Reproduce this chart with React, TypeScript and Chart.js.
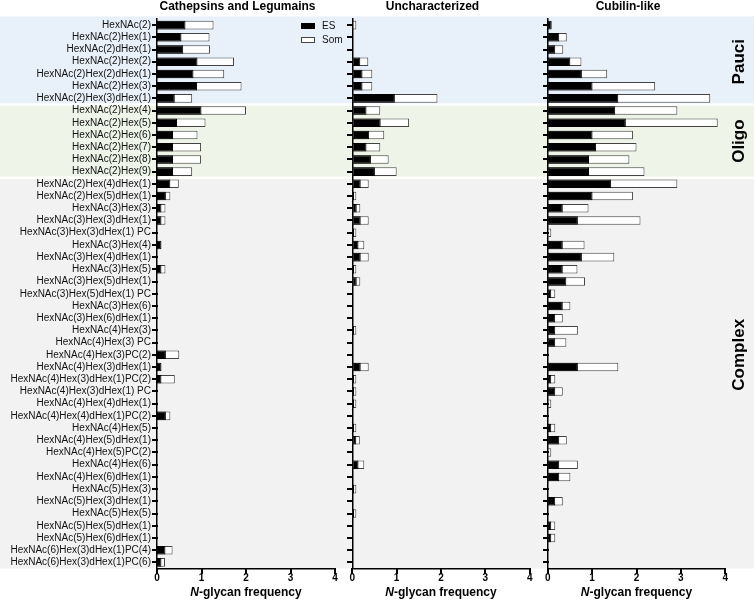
import React, { useEffect, useRef } from 'react';
import { Chart, registerables } from 'chart.js';

Chart.register(...registerables);

const categories = [
  'HexNAc(2)',
  'HexNAc(2)Hex(1)',
  'HexNAc(2)dHex(1)',
  'HexNAc(2)Hex(2)',
  'HexNAc(2)Hex(2)dHex(1)',
  'HexNAc(2)Hex(3)',
  'HexNAc(2)Hex(3)dHex(1)',
  'HexNAc(2)Hex(4)',
  'HexNAc(2)Hex(5)',
  'HexNAc(2)Hex(6)',
  'HexNAc(2)Hex(7)',
  'HexNAc(2)Hex(8)',
  'HexNAc(2)Hex(9)',
  'HexNAc(2)Hex(4)dHex(1)',
  'HexNAc(2)Hex(5)dHex(1)',
  'HexNAc(3)Hex(3)',
  'HexNAc(3)Hex(3)dHex(1)',
  'HexNAc(3)Hex(3)dHex(1) PC',
  'HexNAc(3)Hex(4)',
  'HexNAc(3)Hex(4)dHex(1)',
  'HexNAc(3)Hex(5)',
  'HexNAc(3)Hex(5)dHex(1)',
  'HexNAc(3)Hex(5)dHex(1) PC',
  'HexNAc(3)Hex(6)',
  'HexNAc(3)Hex(6)dHex(1)',
  'HexNAc(4)Hex(3)',
  'HexNAc(4)Hex(3) PC',
  'HexNAc(4)Hex(3)PC(2)',
  'HexNAc(4)Hex(3)dHex(1)',
  'HexNAc(4)Hex(3)dHex(1)PC(2)',
  'HexNAc(4)Hex(3)dHex(1) PC',
  'HexNAc(4)Hex(4)dHex(1)',
  'HexNAc(4)Hex(4)dHex(1)PC(2)',
  'HexNAc(4)Hex(5)',
  'HexNAc(4)Hex(5)dHex(1)',
  'HexNAc(4)Hex(5)PC(2)',
  'HexNAc(4)Hex(6)',
  'HexNAc(4)Hex(6)dHex(1)',
  'HexNAc(5)Hex(3)',
  'HexNAc(5)Hex(3)dHex(1)',
  'HexNAc(5)Hex(5)',
  'HexNAc(5)Hex(5)dHex(1)',
  'HexNAc(5)Hex(6)dHex(1)',
  'HexNAc(6)Hex(3)dHex(1)PC(4)',
  'HexNAc(6)Hex(3)dHex(1)PC(6)',
];

// Cathepsins and Legumains
const cathepsinES = [
  0.64, 0.55, 0.59, 0.91, 0.82, 0.90, 0.40,
  1.00, 0.45, 0.36, 0.36, 0.36, 0.36,
  0.30, 0.20, 0.10, 0.10, 0, 0.10, 0, 0.10, 0, 0, 0, 0, 0, 0, 0.20, 0.10, 0.10,
  0, 0, 0.20, 0, 0, 0, 0, 0, 0, 0, 0, 0, 0, 0.19, 0.10,
];
const cathepsinSom = [
  1.27, 1.18, 1.19, 1.73, 1.51, 1.90, 0.79,
  2.00, 1.09, 0.91, 0.99, 0.99, 0.79,
  0.49, 0.30, 0.19, 0.19, 0, 0, 0, 0.19, 0, 0, 0, 0, 0, 0, 0.50, 0, 0.40,
  0, 0, 0.30, 0, 0, 0, 0, 0, 0, 0, 0, 0, 0, 0.35, 0.18,
];

// Uncharacterized
const uncharES = [
  0.03, 0, 0, 0.18, 0.23, 0.23, 0.96,
  0.32, 0.64, 0.38, 0.32, 0.42, 0.51,
  0.19, 0.04, 0.10, 0.19, 0.04, 0.14, 0.19, 0.04, 0.10, 0, 0, 0, 0.04, 0, 0, 0.19, 0.04,
  0.04, 0.04, 0, 0.04, 0.09, 0, 0.14, 0, 0.04, 0, 0.04, 0, 0, 0, 0,
];
const uncharSom = [
  0.09, 0, 0, 0.36, 0.45, 0.45, 1.92,
  0.63, 1.28, 0.72, 0.63, 0.82, 1.00,
  0.37, 0.09, 0.18, 0.37, 0.09, 0.27, 0.37, 0.09, 0.18, 0, 0, 0, 0.09, 0, 0, 0.37, 0.09,
  0.09, 0.09, 0, 0.09, 0.17, 0, 0.27, 0, 0.09, 0, 0.09, 0, 0, 0, 0,
];

// Cubilin-like
const cubilinES = [
  0.09, 0.26, 0.17, 0.51, 0.77, 1.01, 1.59,
  1.52, 1.76, 1.01, 1.09, 0.93, 0.93,
  1.43, 1.01, 0.34, 0.68, 0, 0.34, 0.77, 0.34, 0.42, 0.08, 0.34, 0.17, 0.17, 0.17, 0, 0.68, 0.08,
  0.17, 0, 0, 0.08, 0.26, 0, 0.26, 0.26, 0, 0.17, 0, 0.08, 0.08, 0, 0,
];
const cubilinSom = [
  0, 0.43, 0.35, 0.76, 1.34, 2.42, 3.66,
  2.92, 3.83, 1.92, 2.00, 1.84, 2.18,
  2.92, 1.92, 0.92, 2.09, 0.08, 0.83, 1.50, 0.67, 0.84, 0.17, 0.51, 0.34, 0.68, 0.42, 0, 1.59, 0.17,
  0.34, 0.08, 0, 0.17, 0.43, 0.08, 0.68, 0.51, 0, 0.34, 0, 0.17, 0.17, 0, 0,
];

const xTickValues = [0, 1, 2, 3, 4];
const panelTitles = ['Cathepsins and Legumains', 'Uncharacterized', 'Cubilin-like'];
const seriesNames = ['ES', 'Som'];
const xTitleItalic = 'N';
const xTitleRest = '-glycan frequency';
const groupNames = ['Pauci', 'Oligo', 'Complex'];
const groupFirstRow = [0, 7, 13];
const groupLastRow = [6, 12, 44];
const groupLabelRow = [3, 9.5, 27];
const groupColors = ['#e8f0fa', '#eef5e8', '#f2f2f2'];

const FONT = '"Liberation Sans", Arial, Helvetica, sans-serif';
const H = 601;
const TICK_LEN = 5;

const panels = [
  { left: 0, width: 345, plotLeft: 157, padRight: 10, bandLeft: 0, bandRight: 345 },
  { left: 345, width: 195, plotLeft: 7.3, padRight: 10.3, bandLeft: 0, bandRight: 195 },
  { left: 540, width: 216, plotLeft: 7.7, padRight: 30.7, bandLeft: 0, bandRight: 214 },
];

const seriesByPanel = [
  [cathepsinES, cathepsinSom],
  [uncharES, uncharSom],
  [cubilinES, cubilinSom],
];

function buildChart(canvas: HTMLCanvasElement, idx: number) {
  const panel = panels[idx];
  const [es, som] = seriesByPanel[idx];
  const toBar = (v: number) => (v > 0 ? v : null);

  const bandPlugin = {
    id: 'bands',
    beforeDraw(chart: any) {
      const { ctx, chartArea } = chart;
      const y = chart.scales.y;
      const rowH = y.getPixelForValue(1) - y.getPixelForValue(0);
      ctx.save();
      for (let g = 0; g < groupNames.length; g++) {
        let top = y.getPixelForValue(groupFirstRow[g]) - rowH / 2;
        let bottom = y.getPixelForValue(groupLastRow[g]) + rowH / 2;
        top = g === 0 ? top - 2.5 : top + 1.2;
        bottom = g === groupNames.length - 1 ? chartArea.bottom : bottom - 1.2;
        ctx.fillStyle = groupColors[g];
        ctx.fillRect(panel.bandLeft, top, panel.bandRight - panel.bandLeft, bottom - top);
      }
      ctx.restore();
    },
  };

  const tickPlugin = {
    id: 'tickMarks',
    afterDraw(chart: any) {
      const { ctx, chartArea } = chart;
      const y = chart.scales.y;
      const x = chart.scales.x;
      ctx.save();
      ctx.fillStyle = '#000';
      const left = Math.round(chartArea.left);
      const bottom = Math.round(chartArea.bottom);
      for (let i = 0; i < categories.length; i++) {
        const py = Math.round(y.getPixelForValue(i));
        ctx.fillRect(left - TICK_LEN, py - 1, TICK_LEN + 1, 2);
      }
      for (const v of xTickValues) {
        const px = Math.round(x.getPixelForValue(v));
        ctx.fillRect(px - 1, bottom - 1, 2, TICK_LEN + 1);
      }
      ctx.restore();
    },
  };

  const textPlugin = {
    id: 'texts',
    afterDraw(chart: any) {
      const { ctx, chartArea } = chart;
      const cx = (chartArea.left + chartArea.right) / 2;
      ctx.save();
      ctx.fillStyle = '#000';
      ctx.textBaseline = 'middle';
      // panel title
      ctx.font = `bold 12px ${FONT}`;
      ctx.textAlign = 'center';
      ctx.fillText(panelTitles[idx], cx - 8.5, 7);
      // x axis title
      ctx.textAlign = 'left';
      ctx.font = `italic bold 12px ${FONT}`;
      const w1 = ctx.measureText(xTitleItalic).width;
      ctx.font = `bold 12px ${FONT}`;
      const w2 = ctx.measureText(xTitleRest).width;
      const x0 = cx - (w1 + w2) / 2;
      ctx.font = `italic bold 12px ${FONT}`;
      ctx.fillText(xTitleItalic, x0, 593);
      ctx.font = `bold 12px ${FONT}`;
      ctx.fillText(xTitleRest, x0 + w1, 593);

      if (idx === 0) {
        // legend
        const ds = chart.data.datasets;
        const lx = 301;
        const rows = [26, 40];
        ctx.font = `10px ${FONT}`;
        for (let i = 0; i < 2; i++) {
          ctx.fillStyle = ds[i].backgroundColor;
          ctx.fillRect(lx, rows[i] - 3, 14, 6);
          ctx.strokeStyle = ds[i].borderColor;
          ctx.lineWidth = 1;
          ctx.strokeRect(lx + 0.5, rows[i] - 2.5, 13, 5);
          ctx.fillStyle = '#111';
          ctx.fillText(ds[i].label, lx + 21, rows[i]);
        }
      }
      if (idx === 2) {
        const y = chart.scales.y;
        ctx.font = `bold 17px ${FONT}`;
        ctx.textAlign = 'center';
        ctx.fillStyle = '#000';
        for (let g = 0; g < groupNames.length; g++) {
          const py = y.getPixelForValue(groupLabelRow[g]);
          ctx.save();
          ctx.translate(199, py);
          ctx.rotate(-Math.PI / 2);
          ctx.fillText(groupNames[g], 0, 0);
          ctx.restore();
        }
      }
      ctx.restore();
    },
  };

  return new Chart(canvas, {
    type: 'bar',
    data: {
      labels: categories,
      datasets: [
        {
          label: seriesNames[0],
          data: es.map(toBar),
          backgroundColor: '#000',
          borderColor: '#000',
          borderWidth: 1,
          borderSkipped: false,
          grouped: false,
          barPercentage: 0.7,
          categoryPercentage: 1,
          order: 1,
        },
        {
          label: seriesNames[1],
          data: som.map(toBar),
          backgroundColor: '#fff',
          borderColor: '#444',
          borderWidth: 1,
          borderSkipped: false,
          grouped: false,
          barPercentage: 0.7,
          categoryPercentage: 1,
          order: 2,
        },
      ],
    } as any,
    options: {
      indexAxis: 'y',
      responsive: false,
      animation: false,
      devicePixelRatio: 1,
      layout: { padding: { left: 0, right: panel.padRight, top: 19, bottom: 0 } },
      plugins: {
        legend: { display: false },
        tooltip: { enabled: false },
        title: { display: false },
      },
      scales: {
        x: {
          type: 'linear',
          position: 'bottom',
          min: xTickValues[0],
          max: xTickValues[xTickValues.length - 1],
          afterBuildTicks: (s: any) => {
            s.ticks = xTickValues.map((v) => ({ value: v }));
          },
          afterFit: (s: any) => {
            s.height = 32.5;
          },
          ticks: {
            font: { family: FONT, size: 10, weight: 'bold' },
            color: '#000',
            padding: 4,
            maxRotation: 0,
          },
          grid: { display: false, drawTicks: false, tickLength: 0 },
          border: { display: true, color: '#000', width: 1.5 },
        },
        y: {
          type: 'category',
          position: 'left',
          offset: true,
          afterFit: (s: any) => {
            s.width = panel.plotLeft;
          },
          ticks: {
            display: idx === 0,
            autoSkip: false,
            font: { family: FONT, size: 10 },
            color: '#111',
            padding: 6,
          },
          grid: { display: false, drawTicks: false, tickLength: 0 },
          border: { display: true, color: '#000', width: 1.5 },
        },
      },
    } as any,
    plugins: [bandPlugin, tickPlugin, textPlugin],
  });
}

export default function App() {
  const canvasRefs = useRef<(HTMLCanvasElement | null)[]>([]);

  useEffect(() => {
    const charts = panels.map((_, i) => buildChart(canvasRefs.current[i] as HTMLCanvasElement, i));
    return () => charts.forEach((c) => c.destroy());
  }, []);

  return (
    <div style={{ position: 'fixed', left: 0, top: 0, width: 756, height: H, background: '#fff' }}>
      {panels.map((p, i) => (
        <canvas
          key={i}
          ref={(el) => {
            canvasRefs.current[i] = el;
          }}
          width={p.width}
          height={H}
          style={{ position: 'absolute', left: p.left, top: 0, width: p.width, height: H }}
        />
      ))}
    </div>
  );
}
